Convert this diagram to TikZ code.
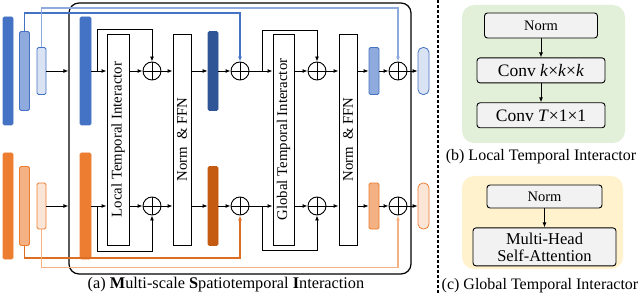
\documentclass[tikz,border=0pt]{standalone}
\usepackage{fontspec}
\setmainfont{Liberation Serif}
\usetikzlibrary{arrows.meta, positioning, calc}

\definecolor{blueM}{HTML}{4472C4}
\definecolor{blueL}{HTML}{8FAADC}
\definecolor{blueXL}{HTML}{DAE3F3}
\definecolor{blueD}{HTML}{2F5597}
\definecolor{orM}{HTML}{ED7D31}
\definecolor{orL}{HTML}{F4B183}
\definecolor{orXL}{HTML}{FBE5D6}
\definecolor{orD}{HTML}{C55A11}
\definecolor{boxgray}{HTML}{F2F2F2}
\definecolor{bggreen}{HTML}{E2F0D9}
\definecolor{bgyellow}{HTML}{FFF2CC}

\begin{document}
\begin{tikzpicture}[x=1pt, y=-1pt, node distance=19pt, >={Latex[length=5pt,width=4pt]},
    bar/.style={rectangle, draw, line width=0.8pt, rounded corners=1.5pt, minimum width=10pt, inner sep=0pt},
    blk/.style={rectangle, draw, line width=0.9pt, minimum height=211pt, inner sep=0pt, font=\fontsize{14.8}{17}\selectfont},
    add/.style={circle, draw, line width=0.9pt, minimum size=18pt, inner sep=0pt,
        path picture={\draw[line width=0.9pt] (path picture bounding box.north) -- (path picture bounding box.south)
            (path picture bounding box.west) -- (path picture bounding box.east);}},
    flow/.style={->, line width=0.9pt},
    opbox/.style={rectangle, draw, line width=0.9pt, rounded corners=3pt, fill=boxgray, minimum height=25pt, inner sep=2pt, font=\fontsize{17.5}{19}\selectfont},
    captext/.style={font=\fontsize{16}{19}\selectfont}]
        \useasboundingbox (0,0) rectangle (640,294);

        \node (frame) [rectangle, draw, line width=1.2pt, rounded corners=10pt, minimum width=342pt, minimum height=271pt] at (240,138.5) {};
        \node (capa) [captext, font=\fontsize{16.3}{19}\selectfont] at (226,285) {(a) \textbf{M}ulti-scale \textbf{S}patiotemporal \textbf{I}nteraction};

        % top row
        \node (b1) [bar, fill=blueM, draw=blueM, minimum height=108pt] at (8,71) {};
        \node (b2) [bar, fill=blueL, draw=blueM, minimum height=79pt] at (24.5,71) {};
        \node (b3) [bar, fill=blueXL, draw=blueM, minimum width=9pt, minimum height=47pt] at (41.5,71) {};
        \node (in1) [bar, fill=blueM, draw=blueM, minimum width=11pt, minimum height=108pt] at (85.5,71) {};
        \node (add1) [add] at (152,71) {};
        \node (dk1) [bar, fill=blueD, draw=blueD, minimum height=79pt] at (213,71) {};
        \node (add2) [add] at (240,71) {};
        \node (add3) [add] at (317,71) {};
        \node (rb1) [bar, fill=blueL, draw=blueM, minimum height=47pt] at (374,71) {};
        \node (add4) [add] at (398,71) {};
        \node (out1) [bar, fill=blueXL, draw=blueM, minimum width=11pt, minimum height=47pt, rounded corners=5pt] at (423.5,71) {};

        % bottom row
        \node (o1) [bar, fill=orM, draw=orM, minimum height=106pt] at (8,206) {};
        \node (o2) [bar, fill=orL, draw=orM, minimum height=79pt] at (24.5,206) {};
        \node (o3) [bar, fill=orXL, draw=orM, minimum width=9pt, minimum height=46pt] at (41.5,206) {};
        \node (in2) [bar, fill=orM, draw=orM, minimum width=11pt, minimum height=106pt] at (85.5,206) {};
        \node (add5) [add] at (152,206) {};
        \node (dk2) [bar, fill=orD, draw=orD, minimum height=79pt] at (213,206) {};
        \node (add6) [add] at (240,206) {};
        \node (add7) [add] at (317,206) {};
        \node (rb2) [bar, fill=orL, draw=orM, minimum height=46pt] at (374,206) {};
        \node (add8) [add] at (398,206) {};
        \node (out2) [bar, fill=orXL, draw=orM, minimum width=11pt, minimum height=46pt, rounded corners=5pt] at (423.5,206) {};

        % shared blocks
        \node (lti) [blk, minimum width=22pt] at (118,139.5) {\rotatebox{90}{Local Temporal Interactor}};
        \node (nf1) [blk, minimum width=18pt] at (182,139.5) {\rotatebox{90}{Norm \ \& FFN}};
        \node (gti) [blk, minimum width=21pt] at (283.5,139.5) {\rotatebox{90}{Global Temporal Interactor}};
        \node (nf2) [blk, minimum width=18pt] at (348,139.5) {\rotatebox{90}{Norm \ \& FFN}};

        \coordinate (s1) at (97,71);
        \coordinate (s2) at (262,71);
        \coordinate (s3) at (97,206);
        \coordinate (s4) at (262,206);

        \draw[flow] (b3.east) -- (b3.east -| frame.west);
        \draw[flow] (in1.east) -- (in1.east -| lti.west);
        \draw[flow] (lti.east |- add1) -- (add1);
        \draw[flow] (add1) -- (add1 -| nf1.west);
        \draw[flow] (nf1.east |- dk1) -- (dk1);
        \draw[flow] (dk1) -- (add2);
        \draw[flow] (add2) -- (add2 -| gti.west);
        \draw[flow] (gti.east |- add3) -- (add3);
        \draw[flow] (add3) -- (add3 -| nf2.west);
        \draw[flow] (nf2.east |- rb1) -- (rb1);
        \draw[flow] (rb1) -- (add4);
        \draw[flow] (add4) -- (out1);
        \draw[flow] (s1) -- ++(0,-42) -| (add1);
        \draw[flow] (s2) -- ++(0,-41) -| (add3);

        \draw[flow] (o3.east) -- (o3.east -| frame.west);
        \draw[flow] (in2.east) -- (in2.east -| lti.west);
        \draw[flow] (lti.east |- add5) -- (add5);
        \draw[flow] (add5) -- (add5 -| nf1.west);
        \draw[flow] (nf1.east |- dk2) -- (dk2);
        \draw[flow] (dk2) -- (add6);
        \draw[flow] (add6) -- (add6 -| gti.west);
        \draw[flow] (gti.east |- add7) -- (add7);
        \draw[flow] (add7) -- (add7 -| nf2.west);
        \draw[flow] (nf2.east |- rb2) -- (rb2);
        \draw[flow] (rb2) -- (add8);
        \draw[flow] (add8) -- (out2);
        \draw[flow] (s3) -- ++(0,45) -| (add5);
        \draw[flow] (s4) -- ++(0,44) -| (add7);

        \draw[->, line width=1.2pt, blueM] (b2.north) -- ++(0,-18) -| (add2);
        \draw[->, line width=1.2pt, blueL] (b3.north) -- ++(0,-39) -| (add4);
        \draw[->, line width=1.2pt, orM!60!orD] (o2.south) -- ++(0,12) -| (add6);
        \draw[->, line width=1.2pt, orL] (o3.south) -- ++(0,38) -| (add8);

        \draw[line width=1.2pt, dash pattern=on 3pt off 2pt] (438,0) -- (438,294);

        % (b) local temporal interactor
        \node (bgb) [rectangle, fill=bggreen, rounded corners=12pt, minimum width=163pt, minimum height=138pt] at (543.5,74) {};
        \node (ln) [opbox, minimum width=113pt, font=\fontsize{14.5}{16}\selectfont] at (541,25.5) {Norm};
        \node (lck) [opbox, minimum width=128pt, below=of ln] {Conv \textit{k}×\textit{k}×\textit{k}};
        \node (lct) [opbox, minimum width=128pt, below=of lck] {Conv \textit{T}×1×1};
        \draw[flow] (ln) -- (lck);
        \draw[flow] (lck) -- (lct);
        \node (capb) [captext] at (541,157) {(b) Local Temporal Interactor};

        % (c) global temporal interactor
        \node (bgc) [rectangle, fill=bgyellow, rounded corners=12pt, minimum width=161pt, minimum height=93pt] at (542.5,222.5) {};
        \node (gn) [opbox, minimum width=115pt, minimum height=23pt, font=\fontsize{14.5}{16}\selectfont] at (544.5,196.5) {Norm};
        \node (gsa) [opbox, minimum width=143pt, minimum height=38pt, align=center, font=\fontsize{16.5}{17}\selectfont, below=of gn] {Multi-Head\\Self-Attention};
        \draw[flow] (gn) -- (gsa);
        \node (capc) [captext] at (540,286) {(c) Global Temporal Interactor};
    \end{tikzpicture}
\end{document}
